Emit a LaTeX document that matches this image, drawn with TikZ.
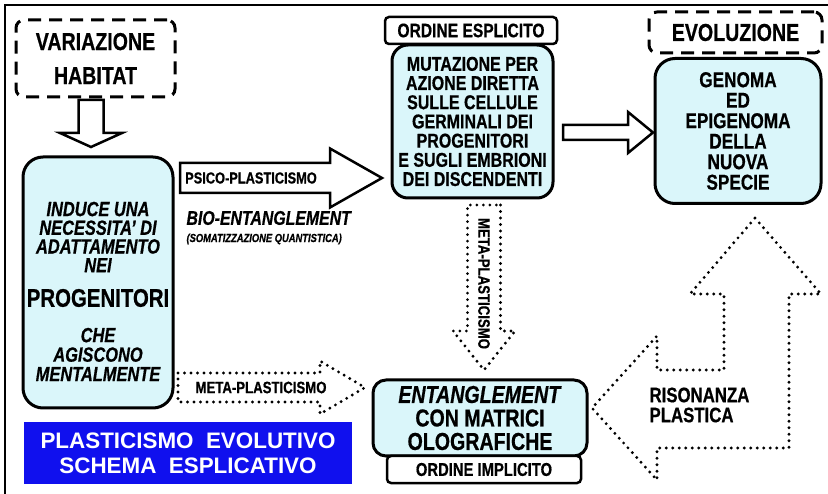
\documentclass[tikz,border=0pt]{standalone}
\usepackage{fontspec}
\setmainfont{Liberation Sans}[FakeStretch=0.8, BoldFeatures={FakeBold=0.6}, BoldItalicFeatures={FakeBold=0.6}]
\newfontfamily\titlefont{Liberation Sans}
\usetikzlibrary{calc}
\definecolor{boxcyan}{RGB}{218,246,250}
\definecolor{titleblue}{RGB}{16,16,238}
\newcommand{\fsz}[2]{\fontsize{#1}{#2}\selectfont}
% hollow block arrow: [style]{from}{to}{half shaft}{half head}{head length}
\newcommand{\blockarrow}[6][]{%
  \coordinate (ba-h) at ($(#3)!#6!(#2)$);
  \draw[#1] ($(#2)!#4!90:(#3)$) -- ($(ba-h)!#4!90:(#3)$) -- ($(ba-h)!#5!90:(#3)$) -- (#3)
    -- ($(ba-h)!#5!-90:(#3)$) -- ($(ba-h)!#4!-90:(#3)$) -- ($(#2)!#4!-90:(#3)$) -- cycle;}
\tikzset{
cyanbox/.style={draw, fill=boxcyan, line width=3pt, rounded corners=16pt, align=center, inner sep=0pt}, % light blue boxes
dashbox/.style={draw, line width=3pt, dash pattern=on 13pt off 8pt, rounded corners=8pt, align=center, inner sep=0pt},
tagbox/.style={draw, fill=white, line width=2.5pt, rounded corners=4pt, inner sep=0pt}, % ordine labels
hollow/.style={draw, fill=white, line width=2.5pt},
dotline/.style={line width=3.2pt, line cap=round, dash pattern=on 0pt off 6.5pt}, % dotted arrows
}

\begin{document}
\begin{tikzpicture}[x=1pt, y=-1pt]
\useasboundingbox (0,0) rectangle (828,494);
\draw[line width=2.5pt] (5,494) -- (5,5) -- (828,5);

% boxes
\node[dashbox, minimum width=159pt, minimum height=77pt, font=\bfseries\fsz{24.5}{34}] (habitat) at (95.5,58.5) {VARIAZIONE\\HABITAT};
\node[cyanbox, rounded corners=20pt, minimum width=150pt, minimum height=251pt] (induce) at (98,282.5) {};
\node[align=center, font=\bfseries\itshape\fsz{20.5}{18.7}] (induce top) at (98,237) {INDUCE UNA\\NECESSITA' DI\\ADATTAMENTO\\NEI};
\node[font=\bfseries\fsz{25.5}{25.5}] (progenitori) at (98,298) {PROGENITORI};
\node[align=center, font=\bfseries\itshape\fsz{20.5}{19.5}] (induce bottom) at (98,354.5) {CHE\\AGISCONO\\MENTALMENTE};

\node[cyanbox, minimum width=161pt, minimum height=153pt, font=\bfseries\fsz{20}{19.2}] (mutazione) at (472.5,121.5) {MUTAZIONE PER\\AZIONE DIRETTA\\SULLE CELLULE\\GERMINALI DEI\\PROGENITORI\\E SUGLI EMBRIONI\\DEI DISCENDENTI};
\node[tagbox, minimum width=172pt, minimum height=27pt, font=\bfseries\fsz{19.5}{19.5}] (esplicito) at (471,30.5) {ORDINE ESPLICITO};

\node[dashbox, minimum width=173pt, minimum height=41pt, font=\bfseries\fsz{24.5}{24.5}] (evoluzione) at (735.5,32.5) {EVOLUZIONE};
\node[cyanbox, rounded corners=20pt, minimum width=166pt, minimum height=145pt, font=\bfseries\fsz{21.5}{20.5}] (genoma) at (738,131) {GENOMA\\ED\\EPIGENOMA\\DELLA\\NUOVA\\SPECIE};

\node[cyanbox, rounded corners=13pt, minimum width=214pt, minimum height=76pt, font=\bfseries\fsz{24.5}{23.5}] (entangle) at (480,418) {\textit{ENTANGLEMENT}\\CON MATRICI\\OLOGRAFICHE};
\node[tagbox, minimum width=194pt, minimum height=27pt, font=\bfseries\fsz{18.5}{18.5}] (implicito) at (484,469.5) {ORDINE IMPLICITO};

\node[fill=titleblue, minimum width=328pt, minimum height=62pt, text=white, align=center, font=\titlefont\bfseries\fsz{22.4}{25}] (title) at (188,453) {PLASTICISMO\ \ EVOLUTIVO\\SCHEMA\ \ ESPLICATIVO};

% block arrows
\coordinate (down s) at (91,100);
\coordinate (down e) at (91,147);
\blockarrow[hollow]{down s}{down e}{12.5pt}{31pt}{14pt}
\coordinate (psico s) at (180,178);
\coordinate (psico e) at (382,178);
\blockarrow[hollow]{psico s}{psico e}{15pt}{29.5pt}{52pt}
\node[font=\bfseries\fsz{16}{16}] (psico) at (251,178) {PSICO-PLASTICISMO};
\coordinate (evo s) at (563,132.5);
\coordinate (evo e) at (653,132.5);
\blockarrow[hollow]{evo s}{evo e}{7.5pt}{20.5pt}{25pt}

\node[anchor=west, font=\bfseries\itshape\fsz{19.8}{19.8}] (bio) at (183,218) {BIO-ENTANGLEMENT};
\node[anchor=west, font=\bfseries\itshape\fsz{11.7}{11.7}] (somat) at (183,239) {(SOMATIZZAZIONE QUANTISTICA)};

% dotted arrows
\coordinate (metav s) at (484,205);
\coordinate (metav e) at (484,370);
\blockarrow[dotline]{metav s}{metav e}{16.5pt}{31pt}{39pt}
\node[rotate=-90, font=\bfseries\fsz{16.5}{16.5}] (metav) at (484,283.5) {META-PLASTICISMO};
\coordinate (metah s) at (178,387.5);
\coordinate (metah e) at (365,387.5);
\blockarrow[dotline]{metah s}{metah e}{14.5pt}{26.5pt}{45pt}
\node[font=\bfseries\fsz{16.5}{16.5}] (metah) at (261,387.5) {META-PLASTICISMO};

\draw[dotline] (755,218) -- (821,294) -- (789,294) -- (789,448) -- (657,448) -- (657,480)
  -- (592,408) -- (657,336) -- (657,370) -- (724,370) -- (724,294) -- (690,294) -- cycle;
\node[anchor=west, align=left, font=\bfseries\fsz{21}{20}] (risonanza) at (646,405) {RISONANZA\\PLASTICA};
\end{tikzpicture}
\end{document}
